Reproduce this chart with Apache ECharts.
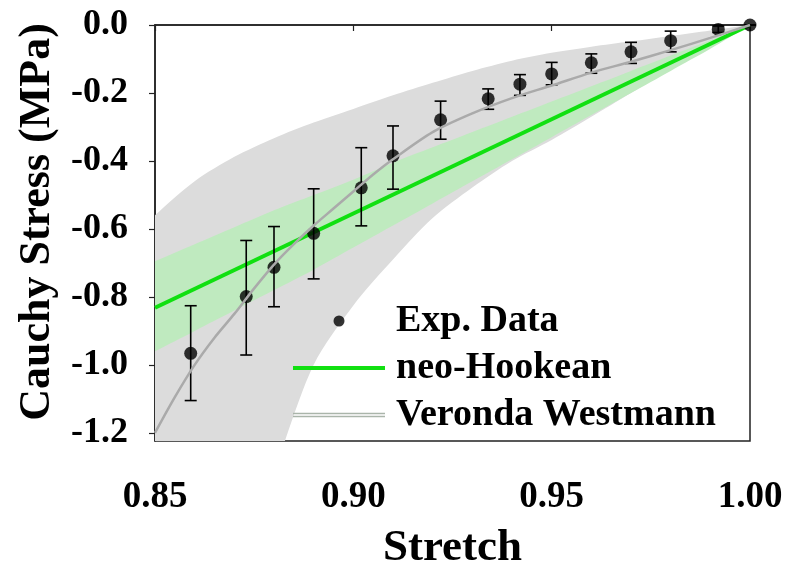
<!DOCTYPE html>
<html>
<head>
<meta charset="utf-8">
<script src="https://cdn.jsdelivr.net/npm/echarts@6/dist/echarts.min.js"></script>
<style>
  html, body { margin: 0; padding: 0; background: #ffffff; }
  #chart { width: 786px; height: 567px; }
</style>
</head>
<body>
<div id="chart"></div>
<script>
// Experimental compression data: mean stress and error-bar limits
const expStretch = [0.859, 0.873, 0.880, 0.890, 0.902, 0.910, 0.922, 0.934, 0.942, 0.950, 0.960, 0.970, 0.980, 0.992, 1.000];
const expStress  = [-0.966, -0.799, -0.713, -0.613, -0.479, -0.385, -0.279, -0.217, -0.174, -0.144, -0.111, -0.079, -0.046, -0.013, 0];
const expHigh    = [-0.826, -0.634, -0.593, -0.482, -0.361, -0.297, -0.224, -0.188, -0.146, -0.110, -0.085, -0.051, -0.018, -0.003, 0];
const expLow     = [-1.105, -0.971, -0.829, -0.747, -0.591, -0.483, -0.336, -0.248, -0.207, -0.176, -0.142, -0.113, -0.079, -0.022, 0];

// neo-Hookean fit (straight line) and its confidence band
const nhStretch = [0.85, 1.00];
const nhStress  = [-0.832, 0];

// Band boundaries; the first column sits just left of the plotted range
const bandStretch  = [0.84, 0.85, 0.86, 0.87, 0.88, 0.89, 0.90, 0.91, 0.92, 0.93, 0.94, 0.95, 0.96, 0.97, 0.98, 0.99, 1.00];
const nhBandHigh   = [-0.745, -0.695, -0.645, -0.595, -0.545, -0.500, -0.455, -0.405, -0.360, -0.315, -0.270, -0.225, -0.180, -0.135, -0.090, -0.045, 0];
const nhBandLow    = [-1.020, -0.960, -0.900, -0.840, -0.780, -0.720, -0.655, -0.590, -0.525, -0.460, -0.395, -0.330, -0.265, -0.200, -0.135, -0.070, 0];

// Veronda Westmann fit and its confidence band
const vwBandHigh   = [-0.670, -0.560, -0.460, -0.388, -0.333, -0.287, -0.247, -0.207, -0.170, -0.135, -0.105, -0.082, -0.064, -0.048, -0.032, -0.016, 0];
const vwBandLow    = [-2.300, -2.050, -1.820, -1.570, -1.310, -1.000, -0.825, -0.690, -0.568, -0.478, -0.400, -0.338, -0.270, -0.200, -0.132, -0.066, 0];

const vwStretch = [0.85, 0.855, 0.86, 0.865, 0.87, 0.875, 0.88, 0.885, 0.89, 0.895, 0.90, 0.905, 0.91, 0.92, 0.93, 0.94, 0.95, 0.96, 0.97, 0.98, 0.99, 1.00];
const vwStress  = [-1.20, -1.095, -1.00, -0.92, -0.85, -0.775, -0.705, -0.645, -0.59, -0.54, -0.49, -0.44, -0.395, -0.315, -0.26, -0.215, -0.178, -0.14, -0.108, -0.074, -0.038, 0];

// Axis ticks
const stretchTicks = [0.85, 0.90, 0.95, 1.00];
const stressTicks  = [0, -0.2, -0.4, -0.6, -0.8, -1.0, -1.2];

const FONT = "'Liberation Serif', 'Times New Roman', serif";

function zipPairs(xs, ys) {
  return xs.map((x, i) => [x, ys[i]]);
}

// Filled band between two boundary arrays, drawn as one smoothed polygon
function bandSeries(name, high, low, color, z) {
  return {
    type: 'custom',
    name: name,
    z: z,
    clip: true,
    silent: true,
    data: [0],
    renderItem: function (params, api) {
      const upper = bandStretch.map((x, i) => api.coord([x, high[i]]));
      const lower = bandStretch.map((x, i) => api.coord([x, low[i]]));
      return {
        type: 'group',
        children: [{
          type: 'polygon',
          shape: { points: upper.concat(lower.reverse()), smooth: 0.3 },
          style: { fill: color }
        }]
      };
    }
  };
}

const chart = echarts.init(document.getElementById('chart'), null, { renderer: 'canvas' });

chart.setOption({
  backgroundColor: '#ffffff',
  animation: false,
  grid: {
    left: 155, right: 36, top: 25, bottom: 126,
    outerBoundsMode: 'none',
    containLabel: false,
    show: true, borderColor: '#222', borderWidth: 1.5, backgroundColor: 'transparent'
  },
  legend: {
    orient: 'vertical',
    left: 288,
    top: 297,
    itemWidth: 92,
    itemHeight: 11,
    itemGap: 9,
    symbolKeepAspect: true,
    textStyle: { fontFamily: FONT, fontWeight: 'bold', fontSize: 38, color: '#000', padding: [0, 0, 0, 6] },
    data: [
      { name: 'Exp. Data', icon: 'circle', itemStyle: { color: '#000' } },
      { name: 'neo-Hookean', icon: 'path://M0,0H92V4H0Z', itemStyle: { color: '#11e011' } },
      { name: 'Veronda Westmann', icon: 'path://M0,0H92V1.3H0ZM0,3H92V4.3H0Z', itemStyle: { color: '#aab5aa' } }
    ]
  },
  xAxis: {
    type: 'value',
    min: 0.85,
    max: 1.00,
    interval: 0.05,
    name: 'Stretch',
    nameLocation: 'middle',
    nameGap: 85,
    nameTextStyle: { fontFamily: FONT, fontWeight: 'bold', fontSize: 45, color: '#000' },
    axisLine: { show: true, lineStyle: { color: '#222', width: 1.5 } },
    axisTick: { show: true, inside: false, length: 6, lineStyle: { color: '#222', width: 1.2 } },
    axisLabel: {
      margin: 38,
      fontFamily: FONT, fontWeight: 'bold', fontSize: 37, color: '#000',
      customValues: stretchTicks,
      formatter: v => v.toFixed(2)
    },
    splitLine: { show: false }
  },
  yAxis: {
    type: 'value',
    min: -1.224,
    max: 0,
    name: 'Cauchy Stress (MPa)',
    nameLocation: 'middle',
    nameGap: 93,
    nameTextStyle: { fontFamily: FONT, fontWeight: 'bold', fontSize: 44, color: '#000', padding: [0, 0, 0, 22] },
    axisLine: { show: true, lineStyle: { color: '#222', width: 1.5 } },
    axisTick: { show: true, inside: false, length: 6, customValues: stressTicks, lineStyle: { color: '#222', width: 1.2 } },
    axisLabel: {
      margin: 27,
      fontFamily: FONT, fontWeight: 'bold', fontSize: 36, color: '#000',
      customValues: stressTicks,
      formatter: v => v.toFixed(1)
    },
    splitLine: { show: false }
  },
  series: [
    bandSeries('VW band', vwBandHigh, vwBandLow, '#dcdcdc', 1),
    bandSeries('NH band', nhBandHigh, nhBandLow, '#bfeabf', 2),
    {
      type: 'line',
      name: 'neo-Hookean',
      z: 3,
      data: zipPairs(nhStretch, nhStress),
      symbol: 'none',
      lineStyle: { color: '#11e011', width: 4 },
      itemStyle: { color: '#11e011' }
    },
    {
      type: 'custom',
      name: 'Error bars',
      z: 4,
      clip: false,
      data: expStretch.map((x, i) => [x, expHigh[i], expLow[i]]),
      renderItem: function (params, api) {
        const top = api.coord([api.value(0), api.value(1)]);
        const bot = api.coord([api.value(0), api.value(2)]);
        const half = 6;
        const st = { stroke: '#000', lineWidth: 1.6 };
        return {
          type: 'group',
          children: [
            { type: 'line', shape: { x1: top[0], y1: top[1], x2: bot[0], y2: bot[1] }, style: st },
            { type: 'line', shape: { x1: top[0] - half, y1: top[1], x2: top[0] + half, y2: top[1] }, style: st },
            { type: 'line', shape: { x1: bot[0] - half, y1: bot[1], x2: bot[0] + half, y2: bot[1] }, style: st }
          ]
        };
      }
    },
    {
      type: 'scatter',
      name: 'Exp. Data',
      z: 5,
      clip: false,
      data: zipPairs(expStretch, expStress),
      symbol: 'circle',
      symbolSize: 13,
      itemStyle: { color: '#000' }
    },
    {
      type: 'line',
      name: 'Veronda Westmann',
      z: 6,
      data: zipPairs(vwStretch, vwStress),
      symbol: 'none',
      smooth: 0.3,
      lineStyle: { color: '#aaaaaa', width: 2.5 },
      itemStyle: { color: '#aaaaaa' }
    }
  ]
});
</script>
</body>
</html>
